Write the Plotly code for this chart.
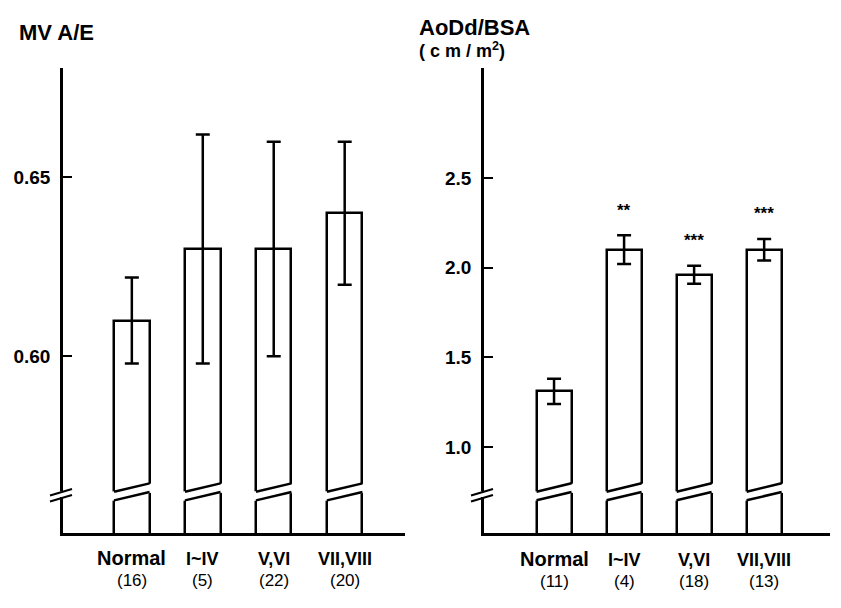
import plotly.graph_objects as go

# ---------------- data ----------------
categories = ["Normal", "I~IV", "V,VI", "VII,VIII"]

mv_n = [16, 5, 22, 20]
mv_mean = [0.61, 0.63, 0.63, 0.64]
mv_err = [0.012, 0.032, 0.030, 0.020]
mv_ticks = [0.60, 0.65]

ao_n = [11, 4, 18, 13]
ao_mean = [1.31, 2.10, 1.96, 2.10]
ao_err = [0.07, 0.08, 0.05, 0.06]
ao_ticks = [1.0, 1.5, 2.0, 2.5]
ao_sig = ["", "**", "***", "***"]

# ---------------- layout constants ----------------
W, H = 841, 608
OFF = 8  # page body margin offset


def xp(px):
    return (px - OFF) / W


def yp(py):
    return 1 - (py - OFF) / H


FONT = "Liberation Sans, Arial, sans-serif"
ydom = [yp(533), yp(68)]
left = dict(dom=[xp(63), xp(405)], xr=[-0.97, 3.85], yr=[0.5506, 0.6806],
            brk_axis=0.5615, brk_bar=0.5621, xa="x", ya="y")
right = dict(dom=[xp(484), xp(830)], xr=[-1.0, 3.94], yr=[0.520, 3.113],
             brk_axis=0.7375, brk_bar=0.7495, xa="x2", ya="y2")
BAR_W = 0.5
idx = list(range(len(categories)))

fig = go.Figure()

for p, mean, err in ((left, mv_mean, mv_err), (right, ao_mean, ao_err)):
    fig.add_trace(go.Bar(
        x=idx, y=mean, width=BAR_W, xaxis=p["xa"], yaxis=p["ya"],
        marker=dict(color="white", line=dict(color="black", width=2.5)),
        error_y=dict(type="data", array=err, visible=True, color="black",
                     thickness=2.5, width=7),
        showlegend=False, hoverinfo="skip"))

shapes = []
annotations = []
for p in (left, right):
    ax, ay = p["xa"], p["ya"]
    # bar breaks
    for i in idx:
        shapes.append(dict(type="path", xref=ax, yref=ay, ysizemode="pixel",
                           yanchor=p["brk_bar"], layer="above",
                           path=f"M {i-0.29},-9.2 L {i+0.29},-0.7 L {i+0.29},8.6 L {i-0.29},0.2 Z",
                           fillcolor="white", line=dict(width=0)))
        shapes.append(dict(type="line", xref=ax, yref=ay, ysizemode="pixel",
                           yanchor=p["brk_bar"], layer="above",
                           x0=i - BAR_W / 2, x1=i + BAR_W / 2, y0=0.1, y1=8.5,
                           line=dict(color="black", width=2.5)))
        shapes.append(dict(type="line", xref=ax, yref=ay, ysizemode="pixel",
                           yanchor=p["brk_bar"], layer="above",
                           x0=i - BAR_W / 2, x1=i + BAR_W / 2, y0=-8.5, y1=-0.1,
                           line=dict(color="black", width=2.5)))
    # axis break
    shapes.append(dict(type="rect", xref=f"{ax} domain", yref=ay,
                       xsizemode="pixel", ysizemode="pixel", xanchor=0,
                       yanchor=p["brk_axis"], x0=-3, x1=3, y0=-3, y1=2.7,
                       fillcolor="white", line=dict(width=0), layer="above"))
    for y0, y1 in ((-1.5, 5.0), (-7.5, -1.0)):
        shapes.append(dict(type="line", xref=f"{ax} domain", yref=ay,
                           xsizemode="pixel", ysizemode="pixel", xanchor=0,
                           yanchor=p["brk_axis"], x0=-13, x1=9, y0=y0, y1=y1,
                           line=dict(color="black", width=2), layer="above"))

# category labels: name above, count below a shared boundary line
for p, ns, yb in ((left, mv_n, 570), (right, ao_n, 571)):
    for i, (c, n) in enumerate(zip(categories, ns)):
        csize = 20 if c == "Normal" else 18
        annotations.append(dict(
            x=i, xref=p["xa"], y=yp(yb), yref="paper", text=f"<b>{c}</b>",
            showarrow=False, borderpad=0,
            font=dict(family=FONT, size=csize, color="black"),
            xanchor="center", yanchor="bottom"))
        annotations.append(dict(
            x=i, xref=p["xa"], y=yp(yb), yref="paper", text=f"({n})",
            showarrow=False, borderpad=0,
            font=dict(family=FONT, size=17, color="black"),
            xanchor="center", yanchor="top"))

# significance marks
for i, (s, m, e) in enumerate(zip(ao_sig, ao_mean, ao_err)):
    if s:
        annotations.append(dict(x=i, xref="x2", y=m + e, yref="y2", text=f"<b>{s}</b>",
                                showarrow=False, yshift=25,
                                font=dict(family=FONT, size=17, color="black"),
                                xanchor="center", yanchor="middle"))

# titles
annotations.append(dict(x=xp(17), y=yp(32), xref="paper", yref="paper",
                        text="<b>MV A/E</b>", showarrow=False, xanchor="left",
                        yanchor="middle", font=dict(family=FONT, size=22, color="black")))
annotations.append(dict(x=xp(417), y=yp(38), xref="paper", yref="paper",
                        text="<span style='font-size:22px'><b>AoDd/BSA</b></span><br>"
                             "<span style='font-size:18px'><b>( c m / m<sup>2</sup>)</b></span>",
                        showarrow=False, xanchor="left", align="left",
                        yanchor="middle", font=dict(family=FONT, size=17, color="black")))

xcommon = dict(showgrid=False, zeroline=False, showticklabels=False, ticks="",
               showline=True, linecolor="black", linewidth=2.5, fixedrange=True)
ycommon = dict(showgrid=False, zeroline=False, showline=True, linecolor="black",
               linewidth=2.5, ticks="inside", ticklen=9, tickwidth=2, tickcolor="black",
               ticklabelstandoff=6,
               tickfont=dict(family=FONT, size=19, color="black", weight="bold"),
               domain=ydom, fixedrange=True)

fig.update_layout(
    width=W, height=H, autosize=False,
    margin=dict(l=0, r=0, t=0, b=0),
    paper_bgcolor="white", plot_bgcolor="white",
    bargap=0,
    xaxis=dict(domain=left["dom"], range=left["xr"], anchor="y", **xcommon),
    yaxis=dict(range=left["yr"], anchor="x", tickvals=mv_ticks,
               ticktext=[f"{v:.2f}" for v in mv_ticks], **ycommon),
    xaxis2=dict(domain=right["dom"], range=right["xr"], anchor="y2", **xcommon),
    yaxis2=dict(range=right["yr"], anchor="x2", tickvals=ao_ticks,
                ticktext=[f"{v:.1f}" for v in ao_ticks], **ycommon),
    shapes=shapes, annotations=annotations,
)

fig.write_html("out.html")
